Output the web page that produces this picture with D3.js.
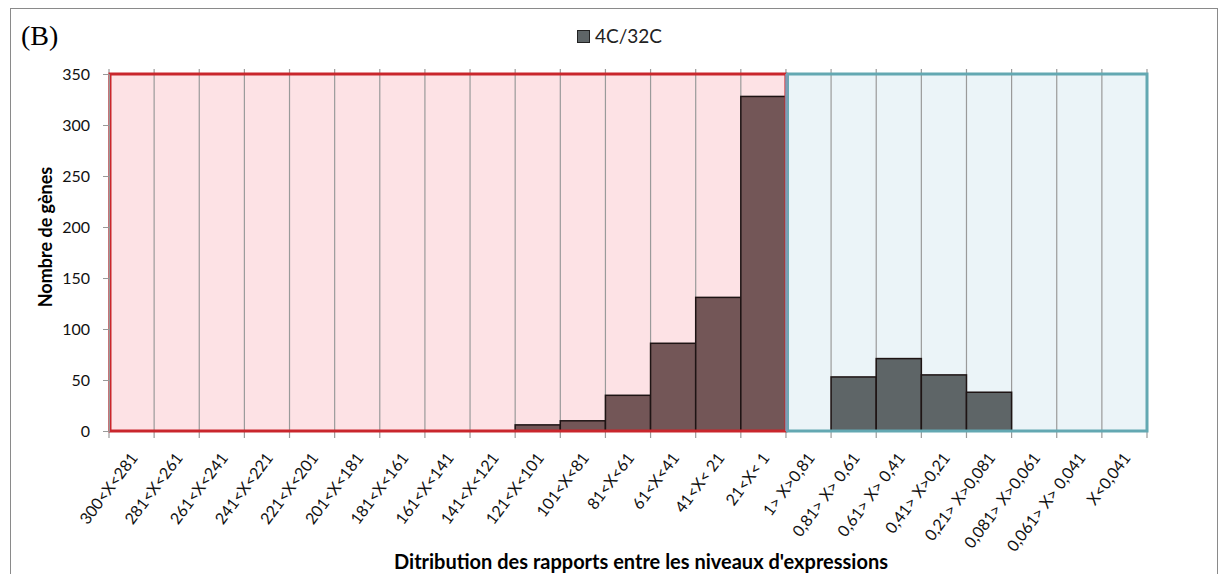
<!DOCTYPE html>
<html><head><meta charset="utf-8">
<script src="https://cdn.jsdelivr.net/npm/d3@7/dist/d3.min.js"></script>
<style>body{margin:0;background:#fff}svg{display:block}</style>
</head><body>
<svg id="c" width="1220" height="574"></svg>
<script>
const categoriesUp = ["300<X<281","281<X<261","261<X<241","241<X<221","221<X<201","201<X<181","181<X<161","161<X<141","141<X<121","121<X<101","101<X<81","81<X<61","61<X<41","41<X< 21","21<X< 1"];
const categoriesDown = ["1> X>0,81","0,81> X> 0,61","0,61> X> 0,41","0,41> X>0,21","0,21> X>0,081","0,081> X>0,061","0,061> X> 0,041","X<0,041"];
const valuesUp = [0,0,0,0,0,0,0,0,0,6,10,35,86,131,328];
const valuesDown = [0,53,71,55,38,0,0,0];
const yTicks = [0,50,100,150,200,250,300,350];
const seriesName = "4C/32C";

const categories = categoriesUp.concat(categoriesDown);
const data = categories.map((c,i)=>({cat:c, v: i<categoriesUp.length ? valuesUp[i] : valuesDown[i-categoriesUp.length], up: i<categoriesUp.length}));

const svg = d3.select("#c");
const font = "Lato, 'Open Sans', sans-serif";
const m = {l:109, r:1147, t:74, b:431};
const x = d3.scaleBand().domain(categories).range([m.l, m.r]).padding(0);
const y = d3.scaleLinear().domain([0,350]).range([m.b, m.t]);

// outer frame
svg.append("rect").attr("x",10.5).attr("y",8.5).attr("width",1207).attr("height",580)
  .attr("fill","none").attr("stroke","#8a8a8a").attr("stroke-width",1);

// regions
const upEnd = x(categoriesUp[categoriesUp.length-1]) + x.bandwidth();
svg.append("rect").attr("x",m.l).attr("y",y(350)).attr("width",upEnd-m.l).attr("height",y(0)-y(350))
  .attr("fill","#fde2e5");
svg.append("rect").attr("x",upEnd).attr("y",y(350)).attr("width",m.r-upEnd).attr("height",y(0)-y(350))
  .attr("fill","#ebf4f8");

// vertical grid lines at band boundaries
const bounds = categories.map(c=>x(c)).concat([m.r]);
svg.append("g").selectAll("line").data(bounds).join("line")
  .attr("x1",d=>d).attr("x2",d=>d).attr("y1",y(350)-5).attr("y2",y(0)+7)
  .attr("stroke","#9a9a9a").attr("stroke-width",1.2);

// bars
svg.append("g").selectAll("rect").data(data.filter(d=>d.v>0)).join("rect")
  .attr("x",d=>x(d.cat)).attr("y",d=>y(d.v)).attr("width",x.bandwidth()).attr("height",d=>y(0)-y(d.v))
  .attr("fill",d=>d.up?"#735657":"#5e6567").attr("stroke","#1e1414").attr("stroke-width",1.5);

// region borders
svg.append("rect").attr("x",m.l+1).attr("y",y(350)).attr("width",upEnd-m.l-1).attr("height",y(0)-y(350))
  .attr("fill","none").attr("stroke","#c9262c").attr("stroke-width",3);
svg.append("rect").attr("x",upEnd+1.5).attr("y",y(350)).attr("width",m.r-upEnd-1.5).attr("height",y(0)-y(350))
  .attr("fill","none").attr("stroke","#63a8b2").attr("stroke-width",3);
svg.append("line").attr("x1",upEnd+0.5).attr("x2",upEnd+0.5).attr("y1",y(350)).attr("y2",y(0))
  .attr("stroke","#7f9db6").attr("stroke-width",2.5);

// y axis
const yAxis = svg.append("g").attr("transform",`translate(${m.l},0)`)
  .call(d3.axisLeft(y).tickValues(yTicks).tickSize(6).tickPadding(13));
yAxis.select(".domain").attr("stroke","#999");
yAxis.selectAll(".tick line").attr("stroke","#999");
yAxis.selectAll("text").attr("font-family",font).attr("font-size",16).attr("fill","#111");

// x labels
svg.append("g").selectAll("text").data(categories).join("text")
  .attr("transform",d=>`translate(${x(d)+x.bandwidth()/2+7},${y(0)+27}) rotate(-53)`)
  .attr("text-anchor","end").attr("font-family",font).attr("font-size",16).attr("fill","#111")
  .text(d=>d);

// axis titles
svg.append("text").attr("transform",`translate(52,237) rotate(-90)`)
  .attr("text-anchor","middle").attr("font-family",font).attr("font-weight","bold").attr("font-size",18)
  .attr("fill","#000").text("Nombre de gènes");
svg.append("text").attr("x",641).attr("y",569).attr("text-anchor","middle")
  .attr("font-family",font).attr("font-weight","bold").attr("font-size",20).attr("fill","#000")
  .text("Ditribution des rapports entre les niveaux d'expressions");

// legend
svg.append("rect").attr("x",577.5).attr("y",30.5).attr("width",12).attr("height",12)
  .attr("fill","#5e6567").attr("stroke","#222").attr("stroke-width",1);
svg.append("text").attr("x",595).attr("y",43).attr("font-family",font).attr("font-size",19).attr("fill","#222")
  .text(seriesName);

// panel label
svg.append("text").attr("x",21).attr("y",45).attr("font-family","'Liberation Serif', 'DejaVu Serif', serif")
  .attr("font-size",28).attr("fill","#000").text("(B)");
</script>
</body></html>
